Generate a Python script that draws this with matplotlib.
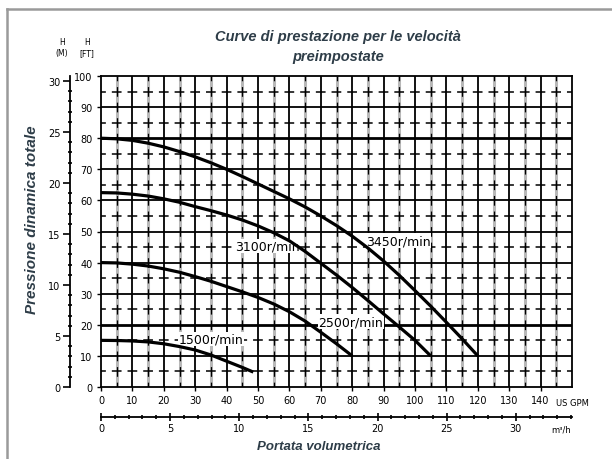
import matplotlib as mpl

mpl.use("Agg")
import matplotlib.pyplot as plt
from matplotlib.lines import Line2D

# pump curves: flow (US GPM) vs head (ft)
gpm_3450 = [0, 5, 10, 15, 20, 25, 30, 35, 40, 45, 50, 55, 60, 65, 70, 75,
            80, 85, 90, 95, 100, 105, 110, 115, 120]
ft_3450 = [80, 79.8, 79.3, 78.4, 77.2, 75.7, 74, 72.1, 70, 67.7, 65.3, 62.9,
           60.5, 57.9, 55, 51.9, 48.5, 44.7, 40.5, 35.9, 31, 26, 20.8, 15.5, 10]
gpm_3100 = [0, 5, 10, 15, 20, 25, 30, 35, 40, 45, 50, 55, 60, 65, 70, 75,
            80, 85, 90, 95, 100, 105]
ft_3100 = [62.5, 62.4, 62, 61.4, 60.5, 59.4, 58, 56.7, 55.3, 53.7, 51.8, 49.6,
           47, 43.6, 39.8, 36, 32, 27.8, 23.5, 19.3, 15, 10]
gpm_2500 = [0, 5, 10, 15, 20, 25, 30, 35, 40, 45, 50, 55, 60, 65, 70, 75, 80]
ft_2500 = [40, 39.9, 39.5, 38.9, 38, 36.9, 35.5, 34, 32.3, 30.6, 28.8, 26.7,
           24.2, 21.2, 17.6, 13.9, 10]
gpm_1500 = [0, 5, 10, 15, 20, 25, 30, 35, 40, 45, 48.5]
ft_1500 = [15, 14.95, 14.8, 14.5, 13.9, 13, 11.9, 10.3, 8.3, 6.3, 4.8]

speed_labels = ["3450r/min", "3100r/min", "2500r/min", "1500r/min"]
label_pos = [(94.6, 47.1), (53, 45.3), (79.6, 21), (35, 15.5)]

gpm_ticks = list(range(0, 150, 10))
ft_ticks = list(range(0, 101, 10))
m_ticks = list(range(0, 31, 5))
m3h_ticks = list(range(0, 31, 5))

GPM_PER_M3H = 4.40287
M_PER_FT = 0.3048

plt.rcParams["lines.scale_dashes"] = False
ink = "#2e3d48"

W, H = 612, 460
fig = plt.figure(figsize=(6.12, 4.6), dpi=100)
ax = fig.add_axes([101 / W, 1 - 388 / H, 471 / W, 311 / H])
ax.set_xlim(0, 150)
ax.set_ylim(0, 100)

# grid: solid every 10, dashed/grey every 5
for g in range(5, 150, 10):
    ax.axvline(g, color="#b8b8b8", lw=2.2, zorder=1)
    ax.axvline(g, color="black", lw=0.9, ls=(3.5, (7, 4.2)), zorder=1.5)
for g in range(10, 150, 10):
    ax.axvline(g, color="black", lw=1.3, zorder=2)
for h in range(5, 100, 10):
    ax.axhline(h, color="black", lw=1.1, ls=(3.5, (7, 4.3)), zorder=2)
for h in range(10, 100, 10):
    ax.axhline(h, color="black", lw=2.0 if h in (20, 80) else 1.3, zorder=2)

for s in ax.spines.values():
    s.set_linewidth(1.3)

for lab, (x, y) in zip(speed_labels, label_pos):
    ax.text(x, y, lab, ha="center", va="center", fontsize=9, zorder=3,
            bbox=dict(facecolor="white", edgecolor="none", pad=0.5))

for x, y in [(gpm_3450, ft_3450), (gpm_3100, ft_3100),
             (gpm_2500, ft_2500), (gpm_1500, ft_1500)]:
    ax.plot(x, y, color="black", lw=2.3, solid_capstyle="butt", zorder=4)

ax.set_xticks(gpm_ticks)
ax.set_xticklabels([str(t) for t in gpm_ticks])
ax.set_yticks(ft_ticks)
ax.set_yticklabels([str(t) for t in ft_ticks])
ax.tick_params(labelsize=7, length=3, width=1, pad=3, colors="black")
ax.text(150, -0.035, "US GPM", transform=ax.get_xaxis_transform(),
        ha="center", va="top", fontsize=6)

# metre scale on the left
sy = ax.secondary_yaxis(-31 / 471, functions=(lambda f: f * M_PER_FT,
                                               lambda m: m / M_PER_FT))
sy.set_yticks(m_ticks)
sy.set_yticks(range(0, 31), minor=True)
sy.tick_params(which="major", labelsize=7, length=5, width=1.2, pad=2)
sy.tick_params(which="minor", direction="inout", length=3, width=1.2)
sy.spines["left"].set_linewidth(1.3)

# m3/h scale at the bottom
sx = ax.secondary_xaxis(-30 / 311, functions=(lambda g: g / GPM_PER_M3H,
                                               lambda q: q * GPM_PER_M3H))
sx.set_xticks(m3h_ticks)
sx.set_xticks(range(0, 35), minor=True)
sx.tick_params(which="major", labelsize=7, direction="inout", length=6,
               width=1.2, pad=1.5)
sx.tick_params(which="minor", direction="inout", length=3, width=1.2)
sx.spines["bottom"].set_linewidth(1.3)
ax.text(146.5, -42 / 311, "m³/h", transform=ax.get_xaxis_transform(),
        ha="center", va="center", fontsize=6)

fig.text(62 / W, 1 - 48 / H, "H\n(M)", ha="center", va="center",
         fontsize=5.5, linespacing=1.4)
fig.text(87 / W, 1 - 48 / H, "H\n[FT]", ha="center", va="center",
         fontsize=5.5, linespacing=1.4)

fig.text(338 / W, 1 - 47 / H, "Curve di prestazione per le velocità\npreimpostate",
         ha="center", va="center", fontsize=10.5, fontweight="bold",
         style="italic", family="Liberation Sans", color=ink, linespacing=1.5)
fig.text(32 / W, 1 - 220 / H, "Pressione dinamica totale", rotation=90,
         ha="center", va="center", fontsize=11, fontweight="bold",
         style="italic", family="Liberation Sans", color=ink)
fig.text(319 / W, 1 - 447 / H, "Portata volumetrica", ha="center",
         va="center", fontsize=9.5, fontweight="bold", style="italic",
         family="Liberation Sans", color=ink)

# frame of the original scan
fig.add_artist(Line2D([7 / W, 7 / W], [0, 1 - 10 / H], color="#9a9a9a", lw=1.8))
fig.add_artist(Line2D([7 / W, 1], [1 - 10 / H, 1 - 10 / H], color="#9a9a9a", lw=1.8))

fig.savefig("out.png", dpi=100)
